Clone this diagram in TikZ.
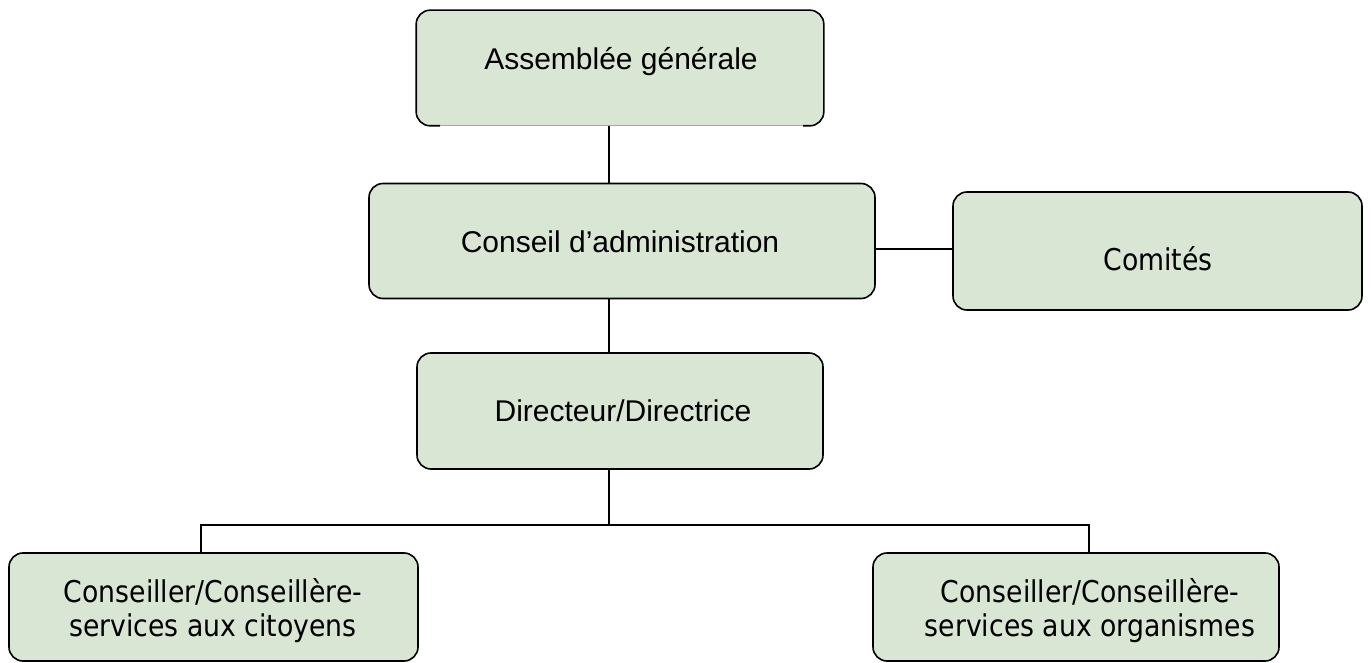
\documentclass[tikz,border=0pt]{standalone}
\usepackage{fontspec}
\setmainfont{Liberation Sans}
\newfontfamily\tahfont[FakeStretch=0.89]{DejaVu Sans}
\definecolor{boxfill}{HTML}{D9E6D4}
\begin{document}
\begin{tikzpicture}[x=1pt,y=-1pt,
  box/.style={draw=black, line width=1.6pt, fill=boxfill, rounded corners=14pt, inner sep=0pt},
  arial/.style={font=\fontsize{30}{36}\selectfont, inner sep=0pt},
  tah/.style={font=\tahfont\fontsize{30}{34}\selectfont, align=center, inner sep=0pt},
  link/.style={draw=black, line width=1.4pt}]
\useasboundingbox (0,0) rectangle (1371,663);
% boxes
\node[box, draw=none, minimum width=406pt, minimum height=114pt] (ag) at (620,68) {};
\draw[line width=1.6pt, rounded corners=14pt] ([xshift=24pt]ag.south west) -- (ag.south west) -- (ag.north west) -- (ag.north east) -- (ag.south east) -- ([xshift=-21pt]ag.south east);
\draw[gray!70, line width=0.7pt] ([xshift=24pt]ag.south west) -- ([xshift=-21pt]ag.south east);
\node[box, minimum width=506pt, minimum height=115pt] (ca) at (622,241) {};
\node[box, minimum width=409pt, minimum height=118pt] (com) at (1157.5,251) {};
\node[box, minimum width=406pt, minimum height=116pt] (dir) at (620,411) {};
\node[box, minimum width=409pt, minimum height=108pt] (cc) at (213.5,607) {};
\node[box, minimum width=406pt, minimum height=108pt] (co) at (1076,607) {};
% connectors
\coordinate (trunk) at (609,0);
\coordinate (bus) at (0,525);
\coordinate (lx) at (201,0);
\coordinate (rx) at (1089,0);
\coordinate (hy) at (0,249);
\draw[link] (ag.south -| trunk) -- (ca.north -| trunk);
\draw[link] (ca.south -| trunk) -- (dir.north -| trunk);
\draw[link] (dir.south -| trunk) -- (bus -| trunk);
\draw[link] (cc.north -| lx) -- (bus -| lx) -- (bus -| rx) -- (co.north -| rx);
\draw[link] (ca.east |- hy) -- (com.west |- hy);
% texts
\node[arial, anchor=base] (agt) at (621,70) {Assemblée générale};
\node[arial, anchor=base] (cat) at (620,252) {Conseil d’administration};
\node[arial, anchor=base] (dirt) at (623,421) {Directeur/Directrice};
\node[tah, anchor=base] (comt) at (1158,270) {Comités};
\node[tah] (cct) at (213,611) {Conseiller/Conseillère-\\services aux citoyens};
\node[tah] (cot) at (1090,611) {Conseiller/Conseillère-\\services aux organismes};
\end{tikzpicture}
\end{document}
